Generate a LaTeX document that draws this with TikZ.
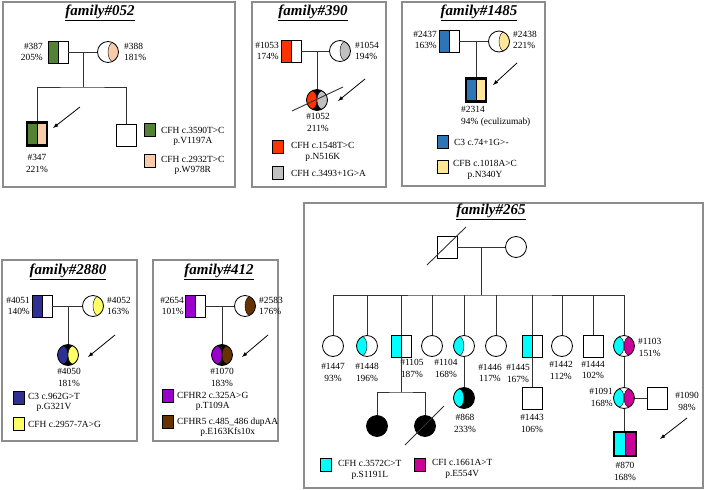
\documentclass[tikz,border=0pt]{standalone}
\usepackage{fontspec}
\setmainfont{Liberation Serif}
\usetikzlibrary{arrows}
\definecolor{cgreen}{RGB}{84,130,53}
\definecolor{cpeach}{RGB}{248,203,173}
\definecolor{cred}{RGB}{255,51,0}
\definecolor{cgrey}{RGB}{192,192,192}
\definecolor{cblue}{RGB}{46,117,182}
\definecolor{cyell}{RGB}{255,230,153}
\definecolor{cnavy}{RGB}{46,49,146}
\definecolor{cyel2}{RGB}{255,255,102}
\definecolor{cpurp}{RGB}{153,0,204}
\definecolor{cbrown}{RGB}{102,51,0}
\definecolor{ccyan}{RGB}{0,255,255}
\definecolor{cmag}{RGB}{204,0,153}
\tikzset{
    ped_m/.style={
           rectangle,
           draw=black, line width=0.8pt,
           fill=white,
           minimum width=20pt,
           minimum height=22pt,
           inner sep=0pt},
    ped_f/.style={
           circle,
           draw=black, line width=0.8pt,
           fill=white,
           minimum size=21pt,
           inner sep=0pt},
    ped_p/.style={line width=2.2pt, minimum height=23pt},
    ped_ml/.style={ped_m,
           path picture={\fill[#1] (path picture bounding box.south west) rectangle (path picture bounding box.north);
                         \draw[line width=0.6pt] (path picture bounding box.south) -- (path picture bounding box.north);}},
    ped_mb/.style 2 args={ped_m, ped_p,
           path picture={\fill[#1] (path picture bounding box.south west) rectangle (path picture bounding box.north);
                         \fill[#2] (path picture bounding box.south) rectangle (path picture bounding box.north east);
                         \draw[line width=0.8pt] (path picture bounding box.south) -- (path picture bounding box.north);}},
    ped_fr/.style={ped_f,
           path picture={\filldraw[fill=#1, draw=black, line width=0.4pt] ([xshift=5.25pt]path picture bounding box.center) ellipse [x radius=5.25pt, y radius=9.6pt];}},
    ped_fl/.style={ped_f,
           path picture={\filldraw[fill=#1, draw=black, line width=0.4pt] ([xshift=-5.25pt]path picture bounding box.center) ellipse [x radius=5.25pt, y radius=9.6pt];}},
    ped_fw/.style 2 args={ped_f,
           path picture={\filldraw[fill=#1, draw=black, line width=0.4pt] ([xshift=-5.25pt]path picture bounding box.center) ellipse [x radius=5.25pt, y radius=9.2pt];
                         \filldraw[fill=#2, draw=black, line width=0.4pt] ([xshift=5.25pt]path picture bounding box.center) ellipse [x radius=5.25pt, y radius=9.2pt];}},
    ped_fb/.style 2 args={ped_fw={#1}{#2}, fill=black},
    ped_d/.style={ped_f, fill=black},
    keysq/.style={rectangle, draw=black, line width=0.8pt, fill=#1,
           minimum width=11pt, minimum height=13pt, inner sep=0pt},
    keyt/.style={font=\fontsize{9.4}{10.5}\selectfont, inner sep=0pt, align=center, anchor=west},
    lbl/.style={font=\fontsize{9.4}{11.5}\selectfont, inner sep=0pt, align=center},
    ttl/.style={font=\fontsize{15}{15}\selectfont\bfseries\itshape, inner sep=0pt},
    frm/.style={draw=black!45, line width=1.1pt},
    pl/.style={draw=black!80, line width=0.9pt},
    arr/.style={-latex, black, line width=0.8pt}
    }

\begin{document}
\begin{tikzpicture}[x=1pt,y=1pt]
      \useasboundingbox (0,0) rectangle (705,-490);
      % family 052
      \draw[frm] (3,-2) rectangle (235,-187);
      \node[ttl] (t052) at (100,-13) {\underline{family\#052}};
      \node[ped_ml=cgreen] (f387) at (58,-52) {};
      \node[ped_fr=cpeach] (m388) at (108,-52) {};
      \node[lbl,anchor=east,align=right] (l387) at (43,-52) {\#387\\205\%};
      \node[lbl,anchor=west,align=left] (l388) at (124,-52) {\#388\\181\%};
      \coordinate (j052) at (83,-52);
      \coordinate (k052) at (83,-87);
      \node[ped_mb={cgreen}{cpeach}] (p347) at (37,-134) {};
      \node[ped_m] (s052) at (126,-135) {};
      \node[lbl] (l347) at (37,-163.5) {\#347\\221\%};
      \draw[pl] (f387) -- (m388);
      \draw[pl] (j052) -- (k052);
      \draw[pl] (p347) |- (k052) -| (s052);
      \coordinate (a052s) at (80,-107);
      \coordinate (a052e) at (53,-128);
      \draw[arr] (a052s) -- (a052e);
      \node[keysq=cgreen] (k052a) at (150,-130) {};
      \node[keyt] (kt052a) at (161,-136.5) {CFH c.3590T>C\\p.V1197A};
      \node[keysq=cpeach] (k052b) at (150,-161) {};
      \node[keyt] (kt052b) at (161,-165.5) {CFH c.2932T>C\\p.W978R};
      % family 390
      \draw[frm] (252,-2) rectangle (386,-187);
      \node[ttl] (t390) at (313,-13) {\underline{family\#390}};
      \node[ped_ml=cred] (f1053) at (291,-51) {};
      \node[ped_fr=cgrey] (m1054) at (340,-51) {};
      \node[lbl,anchor=east,align=right] (l1053) at (279,-51) {\#1053\\174\%};
      \node[lbl,anchor=west,align=left] (l1054) at (355,-51) {\#1054\\194\%};
      \node[ped_fb={cred}{cgrey}] (c1052) at (317,-100) {};
      \node[lbl] (l1052) at (318,-122.5) {\#1052\\211\%};
      \draw[pl] (f1053) -- (m1054);
      \draw[pl] (c1052) -- (c1052 |- f1053);
      \draw[pl] ([shift={(-25,-11)}]c1052.center) -- ([shift={(26,13)}]c1052.center);
      \coordinate (a390s) at (365,-79);
      \coordinate (a390e) at (338,-101);
      \draw[arr] (a390s) -- (a390e);
      \node[keysq=cred] (k390a) at (278,-147) {};
      \node[keyt] (kt390a) at (291,-152) {CFH c.1548T>C\\p.N516K};
      \node[keysq=cgrey] (k390b) at (278,-173) {};
      \node[keyt] (kt390b) at (291,-173) {CFH c.3493+1G>A};
      % family 1485
      \draw[frm] (402,-2) rectangle (545,-186);
      \node[ttl] (t1485) at (479,-13) {\underline{family\#1485}};
      \node[ped_ml=cblue] (f2437) at (449,-41.5) {};
      \node[ped_fr=cyell] (m2438) at (499,-41.5) {};
      \node[lbl,anchor=east,align=right] (l2437) at (437,-40) {\#2437\\163\%};
      \node[lbl,anchor=west,align=left] (l2438) at (513,-40) {\#2438\\221\%};
      \node[ped_mb={cblue}{cyell}] (p2314) at (476,-90) {};
      \node[lbl,anchor=west,align=left] (l2314) at (461,-116.5) {\#2314\\94\% (eculizumab)};
      \draw[pl] (f2437) -- (m2438);
      \draw[pl] (p2314) -- (p2314 |- f2437);
      \coordinate (a1485s) at (517,-63);
      \coordinate (a1485e) at (493,-85);
      \draw[arr] (a1485s) -- (a1485e);
      \node[keysq=cblue] (k1485a) at (443,-142) {};
      \node[keyt] (kt1485a) at (454,-142) {C3 c.74+1G>-};
      \node[keysq=cyell] (k1485b) at (443,-167) {};
      \node[keyt] (kt1485b) at (453,-170) {CFB c.1018A>C\\p.N340Y};
      % family 2880
      \draw[frm] (2,-260) rectangle (137,-441);
      \node[ttl] (t2880) at (68,-272) {\underline{family\#2880}};
      \node[ped_ml=cnavy] (f4051) at (42,-306) {};
      \node[ped_fr=cyel2] (m4052) at (93,-306) {};
      \node[lbl,anchor=east,align=right] (l4051) at (30,-306) {\#4051\\140\%};
      \node[lbl,anchor=west,align=left] (l4052) at (107,-306) {\#4052\\163\%};
      \node[ped_fb={cnavy}{cyel2}] (c4050) at (68,-355) {};
      \node[lbl] (l4050) at (69,-377.5) {\#4050\\181\%};
      \draw[pl] (f4051) -- (m4052);
      \draw[pl] (c4050) -- (c4050 |- f4051);
      \coordinate (a2880s) at (115,-335);
      \coordinate (a2880e) at (88,-357);
      \draw[arr] (a2880s) -- (a2880e);
      \node[keysq=cnavy] (k2880a) at (19,-398) {};
      \node[keyt] (kt2880a) at (28,-402.5) {C3 c.962G>T\\p.G321V};
      \node[keysq=cyel2] (k2880b) at (19,-424) {};
      \node[keyt] (kt2880b) at (28,-424) {CFH c.2957-7A>G};
      % family 412
      \draw[frm] (153,-260) rectangle (278,-441);
      \node[ttl] (t412) at (219,-272) {\underline{family\#412}};
      \node[ped_ml=cpurp] (f2654) at (195,-306) {};
      \node[ped_fr=cbrown] (m2583) at (245,-306) {};
      \node[lbl,anchor=east,align=right] (l2654) at (184,-306) {\#2654\\101\%};
      \node[lbl,anchor=west,align=left] (l2583) at (259,-306) {\#2583\\176\%};
      \node[ped_fb={cpurp}{cbrown}] (c1070) at (222,-355) {};
      \node[lbl] (l1070) at (222,-377.5) {\#1070\\183\%};
      \draw[pl] (f2654) -- (m2583);
      \draw[pl] (c1070) -- (c1070 |- f2654);
      \coordinate (a412s) at (268,-335);
      \coordinate (a412e) at (242,-357);
      \draw[arr] (a412s) -- (a412e);
      \node[keysq=cpurp] (k412a) at (168,-396) {};
      \node[keyt] (kt412a) at (177,-401.5) {CFHR2 c.325A>G\\p.T109A};
      \node[keysq=cbrown] (k412b) at (168,-422) {};
      \node[keyt] (kt412b) at (177,-427) {CFHR5 c.485\_486 dupAA\\p.E163Kfs10x};
      % family 265
      \draw[frm] (304,-203) rectangle (703,-488);
      \node[ttl] (t265) at (491,-212) {\underline{family\#265}};
      \node[ped_m] (gf) at (447,-247) {};
      \node[ped_f] (gm) at (516,-247) {};
      \coordinate (j265) at (481,-247);
      \coordinate (k265) at (481,-295);
      \draw[pl] (gf) -- (gm);
      \draw[pl] (j265) -- (k265);
      \draw[pl] ([shift={(-20,-18)}]gf.center) -- ([shift={(19,20)}]gf.center);
      \node[ped_f] (c1447) at (333,-346) {};
      \node[ped_fl=ccyan] (c1448) at (367,-346) {};
      \node[ped_ml=ccyan] (s1105) at (401,-346) {};
      \node[ped_f] (c1104) at (432,-346) {};
      \node[ped_fl=ccyan] (cmom) at (464,-346) {};
      \node[ped_f] (c1446) at (496,-346) {};
      \node[ped_ml=ccyan] (s1445) at (532,-346) {};
      \node[ped_f] (c1442) at (562,-346) {};
      \node[ped_m] (s1444) at (593,-346) {};
      \node[ped_fw={ccyan}{cmag}] (c1103) at (624,-346) {};
      \node[lbl] (l1447) at (333,-372.5) {\#1447\\93\%};
      \node[lbl] (l1448) at (367,-372.5) {\#1448\\196\%};
      \node[lbl] (l1105) at (412,-368.5) {\#1105\\187\%};
      \node[lbl] (l1104) at (446,-368.5) {\#1104\\168\%};
      \node[lbl] (l1446) at (490,-373) {\#1446\\117\%};
      \node[lbl] (l1445) at (518,-373.5) {\#1445\\167\%};
      \node[lbl] (l1442) at (561,-370.5) {\#1442\\112\%};
      \node[lbl] (l1444) at (593,-370) {\#1444\\102\%};
      \node[lbl,anchor=west] (l1103) at (638,-347.5) {\#1103\\151\%};
      \draw[pl] (c1447) |- (k265) -| (c1103);
      \draw[pl] (c1448) -- (c1448 |- k265);
      \draw[pl] (s1105) -- (s1105 |- k265);
      \draw[pl] (c1104) -- (c1104 |- k265);
      \draw[pl] (cmom) -- (cmom |- k265);
      \draw[pl] (c1446) -- (c1446 |- k265);
      \draw[pl] (s1445) -- (s1445 |- k265);
      \draw[pl] (c1442) -- (c1442 |- k265);
      \draw[pl] (s1444) -- (s1444 |- k265);
      % next generation
      \coordinate (k1105) at (401,-392);
      \node[ped_d] (d1) at (377,-426) {};
      \node[ped_d] (d2) at (425,-426) {};
      \draw[pl] (s1105) -- (k1105);
      \draw[pl] (d1) |- (k1105) -| (d2);
      \draw[pl] ([shift={(-20,-19)}]d2.center) -- ([shift={(19,20)}]d2.center);
      \node[ped_fb={ccyan}{black}] (c868) at (464,-398) {};
      \node[lbl] (l868) at (465,-423.5) {\#868\\233\%};
      \draw[pl] (cmom) -- (c868);
      \node[ped_m] (s1443) at (532,-398) {};
      \node[lbl] (l1443) at (532,-423.5) {\#1443\\106\%};
      \draw[pl] (s1445) -- (s1443);
      \node[ped_fw={ccyan}{cmag}] (c1091) at (624,-398) {};
      \node[lbl,anchor=east,align=right] (l1091) at (613,-397.5) {\#1091\\168\%};
      \node[ped_m] (s1090) at (657,-398) {};
      \node[lbl] (l1090) at (687,-401.5) {\#1090\\98\%};
      \draw[pl] (c1103) -- (c1091);
      \draw[pl] (c1091) -- (s1090);
      \node[ped_mb={ccyan}{cmag}, minimum width=22pt, minimum height=24pt] (p870) at (625,-444) {};
      \node[lbl] (l870) at (625,-471.5) {\#870\\168\%};
      \draw[pl] (c1091) -- (c1091 |- p870.north);
      \coordinate (a265s) at (687,-418);
      \coordinate (a265e) at (660,-439);
      \draw[arr] (a265s) -- (a265e);
      \node[keysq=ccyan] (k265a) at (326,-465) {};
      \node[keyt] (kt265a) at (338,-470) {CFH c.3572C>T\\p.S1191L};
      \node[keysq=cmag] (k265b) at (420,-465) {};
      \node[keyt] (kt265b) at (432,-469) {CFI c.1661A>T\\p.E554V};
\end{tikzpicture}
\end{document}
